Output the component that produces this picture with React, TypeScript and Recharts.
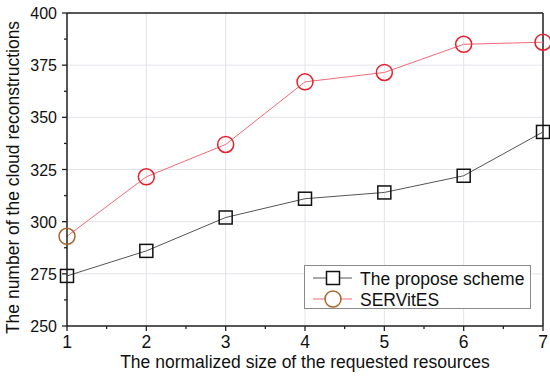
import React from 'react';
import { LineChart, Line, XAxis, YAxis, CartesianGrid, ReferenceLine, Legend } from 'recharts';

const sizes = [1, 2, 3, 4, 5, 6, 7];
const proposeScheme = [274, 286, 302, 311, 314, 322, 343];
const servites = [293, 321.5, 337, 367, 371.5, 385, 386];
const xMajorTicks = [1, 2, 3, 4, 5, 6, 7];
const xMinorTicks = [1.5, 2.5, 3.5, 4.5, 5.5, 6.5];
const yMajorTicks = [250, 275, 300, 325, 350, 375, 400];
const yMinorTicks = [262.5, 287.5, 312.5, 337.5, 362.5, 387.5];
const seriesNames = ['The propose scheme', 'SERVitES'];
const xTitle = 'The normalized size of the requested resources';
const yTitle = 'The number of the cloud reconstructions';

const data = sizes.map((s, i) => ({ size: s, propose: proposeScheme[i], servites: servites[i] }));

const FONT = '"Liberation Sans", Arial, sans-serif';
const AXIS = '#222';
const RED = '#e5202c';
const BROWN = '#a8662a';

const XTick = (props: any) => {
  const { x, y, payload } = props;
  const v = payload.value;
  const major = Number.isInteger(v);
  return (
    <g>
      <line x1={x} x2={x} y1={y} y2={y + (major ? 5 : 3)} stroke={AXIS} strokeWidth={1.3} />
      {major && (
        <text x={x} y={y + 22} textAnchor="middle" fontSize={17.5} fontFamily={FONT} fill="#111">
          {v}
        </text>
      )}
    </g>
  );
};

const YTick = (props: any) => {
  const { x, y, payload } = props;
  const v = payload.value;
  const major = v % 25 === 0;
  return (
    <g>
      <line x1={x} x2={x - (major ? 5 : 3)} y1={y} y2={y} stroke={AXIS} strokeWidth={1.3} />
      {major && (
        <text x={x - 10} y={y + 6} textAnchor="end" fontSize={16} fontFamily={FONT} fill="#111">
          {v}
        </text>
      )}
    </g>
  );
};

const SquareDot = (props: any) => {
  const { cx, cy, index } = props;
  if (cx == null || cy == null) return <g key={`sq-${index}`} />;
  return (
    <rect key={`sq-${index}`} x={cx - 6.5} y={cy - 6.5} width={13} height={13} fill="none" stroke="#111" strokeWidth={1.5} />
  );
};

const CircleDot = (props: any) => {
  const { cx, cy, index } = props;
  if (cx == null || cy == null) return <g key={`ci-${index}`} />;
  return (
    <circle key={`ci-${index}`} cx={cx} cy={cy} r={8} fill="none" stroke={index === 0 ? BROWN : RED} strokeWidth={1.5} />
  );
};

const XTitle = (props: any) => {
  const vb = props.viewBox || {};
  return (
    <text x={vb.x + vb.width / 2} y={368} textAnchor="middle" fontSize={17.5} fontFamily={FONT} fill="#111">
      {xTitle}
    </text>
  );
};

const YTitle = (props: any) => {
  const vb = props.viewBox || {};
  const cy = vb.y + vb.height / 2 + 8;
  return (
    <text
      x={13}
      y={cy}
      transform={`rotate(-90, 13, ${cy})`}
      textAnchor="middle"
      dominantBaseline="central"
      fontSize={17.5}
      fontFamily={FONT}
      fill="#111"
    >
      {yTitle}
    </text>
  );
};

const LegendBox = () => (
  <svg width={227} height={44} style={{ display: 'block' }}>
    <rect x={0.5} y={0.5} width={226} height={43} fill="#fff" stroke="#8a8a8a" strokeWidth={1} />
    <line x1={9} x2={48} y1={13} y2={13} stroke="#555" strokeWidth={1} />
    <rect x={22.5} y={6.5} width={13} height={13} fill="#fff" stroke="#111" strokeWidth={1.5} />
    <text x={56} y={19.5} fontSize={17.5} fontFamily={FONT} fill="#111">{seriesNames[0]}</text>
    <line x1={9} x2={48} y1={34} y2={34} stroke="#f06a78" strokeWidth={1} />
    <circle cx={29} cy={34} r={8} fill="#fff" stroke={BROWN} strokeWidth={1.5} />
    <text x={56} y={40.5} fontSize={17.5} fontFamily={FONT} fill="#111">{seriesNames[1]}</text>
  </svg>
);

export default function App() {
  return (
    <div style={{ position: 'absolute', left: 0, top: 0, width: 550, height: 382, background: '#fff' }}>
      <LineChart width={550} height={382} data={data} margin={{ top: 13, right: 7, bottom: 0, left: 0 }}>
        <CartesianGrid stroke="#e2e4ea" strokeWidth={1} horizontalValues={yMajorTicks} verticalValues={xMajorTicks} />
        <XAxis
          dataKey="size"
          type="number"
          domain={[1, 7]}
          ticks={[...xMajorTicks, ...xMinorTicks].sort((a, b) => a - b)}
          interval={0}
          tick={<XTick />}
          tickLine={false}
          tickSize={0}
          tickMargin={0}
          axisLine={{ stroke: AXIS, strokeWidth: 1.5 }}
          height={56}
          label={<XTitle />}
        />
        <YAxis
          type="number"
          domain={[250, 400]}
          ticks={[...yMajorTicks, ...yMinorTicks].sort((a, b) => a - b)}
          interval={0}
          tick={<YTick />}
          tickLine={false}
          tickSize={0}
          tickMargin={0}
          axisLine={{ stroke: AXIS, strokeWidth: 1.5 }}
          width={67}
          label={<YTitle />}
        />
        <ReferenceLine y={400} stroke={AXIS} strokeWidth={1.5} />
        <ReferenceLine x={7} stroke={AXIS} strokeWidth={1.5} />
        <Line
          dataKey="propose"
          name={seriesNames[0]}
          stroke="#555"
          strokeWidth={1}
          dot={(p: any) => <SquareDot {...p} key={`sq-${p.index}`} />}
          isAnimationActive={false}
        />
        <Line
          dataKey="servites"
          name={seriesNames[1]}
          stroke="#f06a78"
          strokeWidth={1}
          dot={(p: any) => <CircleDot {...p} key={`ci-${p.index}`} />}
          isAnimationActive={false}
        />
        <Legend
          layout="vertical"
          align="center"
          verticalAlign="middle"
          content={() => <LegendBox />}
          wrapperStyle={{ left: 304, top: 265, width: 227, height: 44 }}
        />
      </LineChart>
    </div>
  );
}
